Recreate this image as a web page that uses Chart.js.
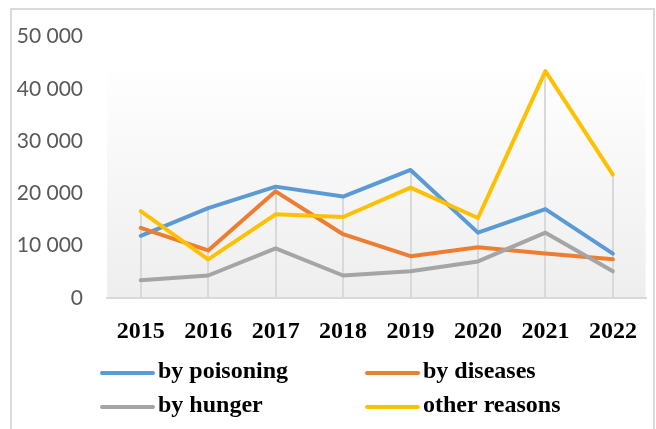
<!DOCTYPE html>
<html>
<head>
<meta charset="utf-8">
<script src="https://cdn.jsdelivr.net/npm/chart.js@4.4.0/dist/chart.umd.min.js"></script>
<style>
html,body{margin:0;padding:0;background:#fff;}
#wrap{width:656px;height:429px;position:relative;}
</style>
</head>
<body>
<div id="wrap"><canvas id="c" width="656" height="429"></canvas></div>
<script>
const years = ['2015','2016','2017','2018','2019','2020','2021','2022'];
const byPoisoning = [11900, 17200, 21300, 19400, 24500, 12500, 17000, 8500];
const byDiseases  = [13400, 9100, 20400, 12200, 8000, 9700, 8500, 7400];
const byHunger    = [3400, 4300, 9500, 4300, 5100, 7000, 12500, 5100];
const otherReasons= [16600, 7400, 16000, 15500, 21100, 15300, 43400, 23600];
const seriesNames = ['by poisoning','by diseases','by hunger','other reasons'];
const seriesColors = ['#5B9BD5','#ED7D31','#A5A5A5','#FFC000'];
const yTicks = [0, 10000, 20000, 30000, 40000, 50000];

const seriesValues = [byPoisoning, byDiseases, byHunger, otherReasons];

const fmt = v => String(v).replace(/\B(?=(\d{3})+(?!\d))/g, ' ');

const bgPlugin = {
  id: 'bg',
  beforeDraw(chart) {
    const ctx = chart.ctx;
    const a = chart.chartArea;
    const top = 62;
    ctx.save();
    const g = ctx.createLinearGradient(0, top, 0, a.bottom);
    g.addColorStop(0, '#ffffff');
    g.addColorStop(1, '#eeeeee');
    ctx.fillStyle = g;
    ctx.fillRect(a.left, top, a.right - a.left - 1, a.bottom - top);
    ctx.strokeStyle = '#d9d9d9';
    ctx.lineWidth = 2;
    ctx.strokeRect(11, 9, 643, 440);
    ctx.restore();
  },
  beforeDatasetsDraw(chart) {
    const ctx = chart.ctx;
    const x = chart.scales.x, y = chart.scales.y;
    ctx.save();
    ctx.strokeStyle = '#d9d9d9';
    ctx.lineWidth = 2;
    years.forEach((yr, i) => {
      const mx = Math.max(...seriesValues.map(s => s[i]));
      const px = Math.round(x.getPixelForValue(i));
      ctx.beginPath();
      ctx.moveTo(px, y.getPixelForValue(mx));
      ctx.lineTo(px, y.getPixelForValue(0));
      ctx.stroke();
    });
    ctx.restore();
  },
  afterDraw(chart) {
    const ctx = chart.ctx;
    ctx.save();
    const pos = [
      {lx: 100, tx: 158, y: 373},
      {lx: 365, tx: 423, y: 373},
      {lx: 100, tx: 158, y: 407},
      {lx: 365, tx: 423, y: 407}
    ];
    ctx.font = 'bold 24px "Liberation Serif"';
    ctx.textBaseline = 'middle';
    ctx.fillStyle = '#000';
    seriesNames.forEach((n, i) => {
      const p = pos[i];
      ctx.strokeStyle = seriesColors[i];
      ctx.lineWidth = 4;
      ctx.lineCap = 'round';
      ctx.beginPath();
      ctx.moveTo(p.lx + 2, p.y);
      ctx.lineTo(p.lx + 53, p.y);
      ctx.stroke();
      ctx.fillText(n, p.tx, p.y - 1);
    });
    ctx.restore();
  }
};

new Chart(document.getElementById('c'), {
  type: 'line',
  data: {
    labels: years,
    datasets: seriesNames.map((n, i) => ({
      label: n,
      data: seriesValues[i],
      borderColor: seriesColors[i],
      backgroundColor: seriesColors[i],
      borderWidth: 4,
      pointRadius: 0,
      tension: 0,
      borderCapStyle: 'round',
      borderJoinStyle: 'round',
      order: 4 - i
    }))
  },
  options: {
    responsive: false,
    animation: false,
    layout: {padding: {left: 0, right: 2, top: 33, bottom: 0}},
    plugins: {legend: {display: false}, tooltip: {enabled: false}},
    scales: {
      x: {
        offset: true,
        grid: {display: false, drawTicks: false},
        border: {display: true, color: '#d9d9d9', width: 2},
        ticks: {
          padding: 19,
          color: '#000',
          font: {family: '"Liberation Serif"', size: 24, weight: 'bold'},
          maxRotation: 0
        },
        afterFit(s) { s.height = 131; }
      },
      y: {
        min: 0, max: 50000,
        grid: {display: false, drawTicks: false},
        border: {display: false},
        afterBuildTicks(s) { s.ticks = yTicks.map(v => ({value: v})); },
        ticks: {
          padding: 24,
          color: '#595959',
          font: {family: 'Lato', size: 21},
          callback: v => fmt(v)
        },
        afterFit(s) { s.width = 107; }
      }
    }
  },
  plugins: [bgPlugin]
});
</script>
</body>
</html>
